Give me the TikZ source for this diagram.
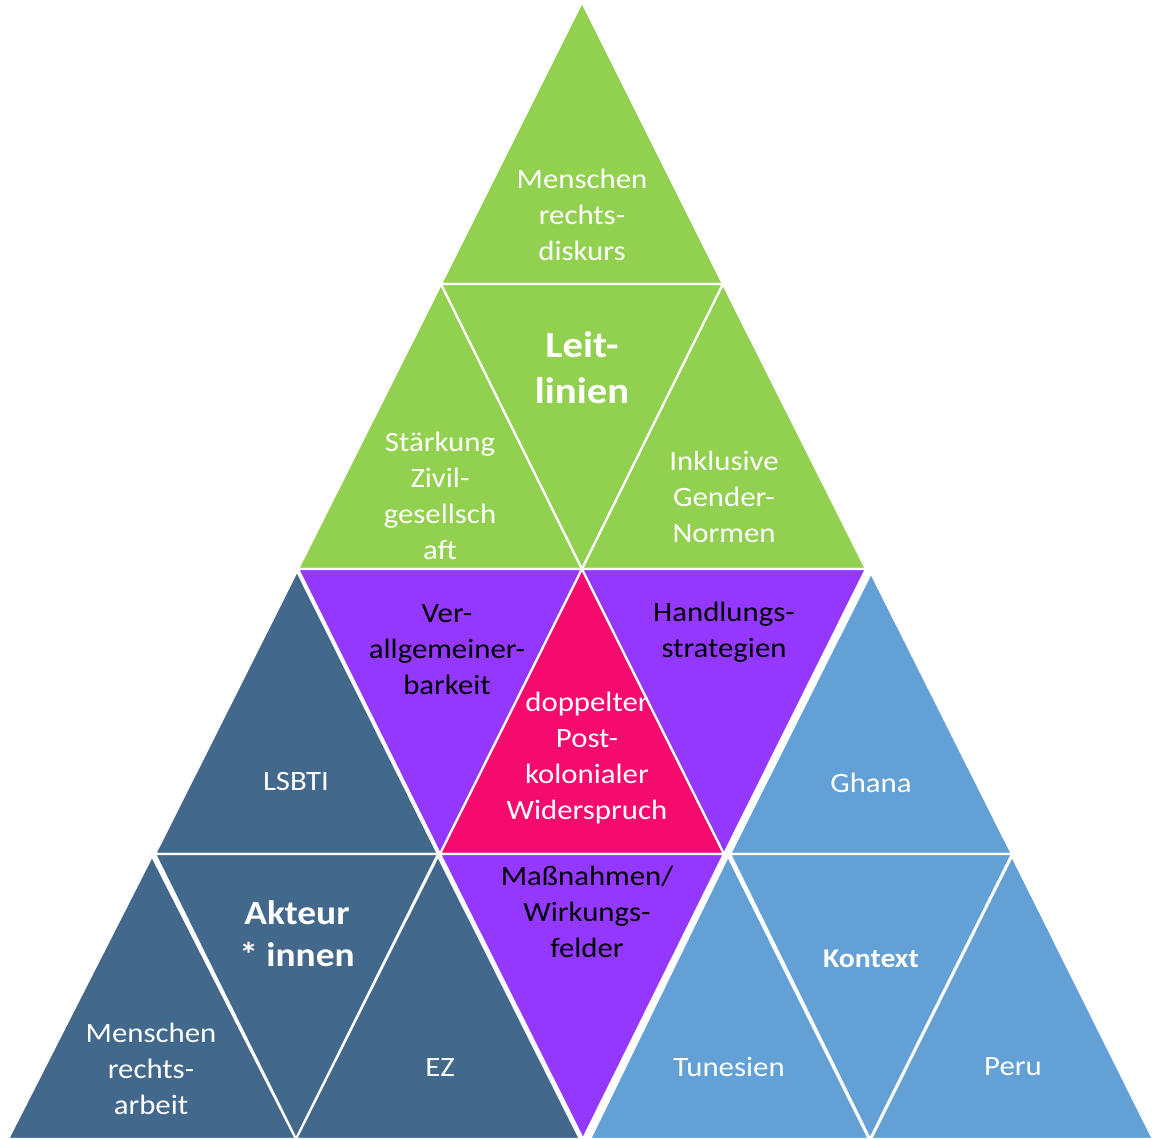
\documentclass[tikz,border=0pt]{standalone}
\usepackage{fontspec}
\setmainfont{Carlito}[FakeStretch=1.1]
\definecolor{cgreen}{HTML}{92D050}
\definecolor{cdark}{HTML}{42688C}
\definecolor{cpurple}{HTML}{9438FF}
\definecolor{cmag}{HTML}{F50A6E}
\definecolor{clight}{HTML}{62A0D5}
\begin{document}
\begin{tikzpicture}[x=1pt,y=-1pt,
  tri/.style={draw=white,line width=2.2pt,line join=miter},
  lbl/.style={align=center,inner sep=0pt,text=white,font=\fontsize{28}{36}\selectfont},
  lblk/.style={lbl,text=black},
  big/.style={align=center,inner sep=0pt,text=white,font=\bfseries\fontsize{37}{46}\selectfont}]
\useasboundingbox (0,0) rectangle (1154,1139);
% green
\fill[cgreen,tri] (582,2) -- (441,284) -- (723,284) -- cycle;
\fill[cgreen,tri] (441,284) -- (298,569) -- (582,569) -- cycle;
\fill[cgreen,tri] (441,284) -- (723,284) -- (582,569) -- cycle;
\fill[cgreen,tri] (723,284) -- (582,569) -- (866,569) -- cycle;
% row 3
\fill[cdark,tri] (297,571) -- (155,854) -- (438,854) -- cycle;
\fill[cpurple,tri] (298,569) -- (582,569) -- (440,854) -- cycle;
\fill[cmag,tri] (582,569) -- (440,854) -- (724,854) -- cycle;
\fill[cpurple,tri] (582,569) -- (866,569) -- (724,854) -- cycle;
\fill[clight,tri] (871,573) -- (730,854) -- (1012,854) -- cycle;
% row 4
\fill[cdark,tri] (152,856) -- (8,1139) -- (296,1139) -- cycle;
\fill[cdark,tri] (155,854) -- (438,854) -- (296,1139) -- cycle;
\fill[cdark,tri] (438,856) -- (296,1139) -- (580,1139) -- cycle;
\fill[cpurple,tri] (440,854) -- (724,854) -- (583,1139) -- cycle;
\fill[clight,tri] (728,856) -- (590,1139) -- (869,1139) -- cycle;
\fill[clight,tri] (730,854) -- (1012,854) -- (870,1139) -- cycle;
\fill[clight,tri] (1012,856) -- (871,1139) -- (1153,1139) -- cycle;
% labels
\node[lbl] (a) at (582,215) {Menschen\\rechts-\\diskurs};
\node[big] (b) at (582,368) {Leit-\\linien};
\node[lbl] (c) at (440,496) {Stärkung\\Zivil-\\gesellsch\\aft};
\node[lbl] (d) at (724,497) {Inklusive\\Gender-\\Normen};
\node[lblk] (e) at (447,650) {Ver-\\allgemeiner-\\barkeit};
\node[lblk] (f) at (724,632) {Handlungs-\\strategien};
\node[lbl] (g) at (587,758) {doppelter\\Post-\\kolonialer\\Widerspruch};
\node[lbl] (h) at (296,782) {LSBTI};
\node[lbl] (i) at (871,783) {Ghana};
\node[big,font=\bfseries\fontsize{34}{42}\selectfont] (j) at (297,934) {Akteur\\* innen};
\node[lbl] (k) at (151,1069) {Menschen\\rechts-\\arbeit};
\node[lbl] (l) at (440,1068) {EZ};
\node[lblk] (m) at (587,912) {Maßnahmen/\\Wirkungs-\\felder};
\node[lbl] (n) at (729,1067) {Tunesien};
\node[big,font=\bfseries\fontsize{27}{34}\selectfont] (o) at (871,959) {Kontext};
\node[lbl] (p) at (1013,1067) {Peru};
\end{tikzpicture}
\end{document}
